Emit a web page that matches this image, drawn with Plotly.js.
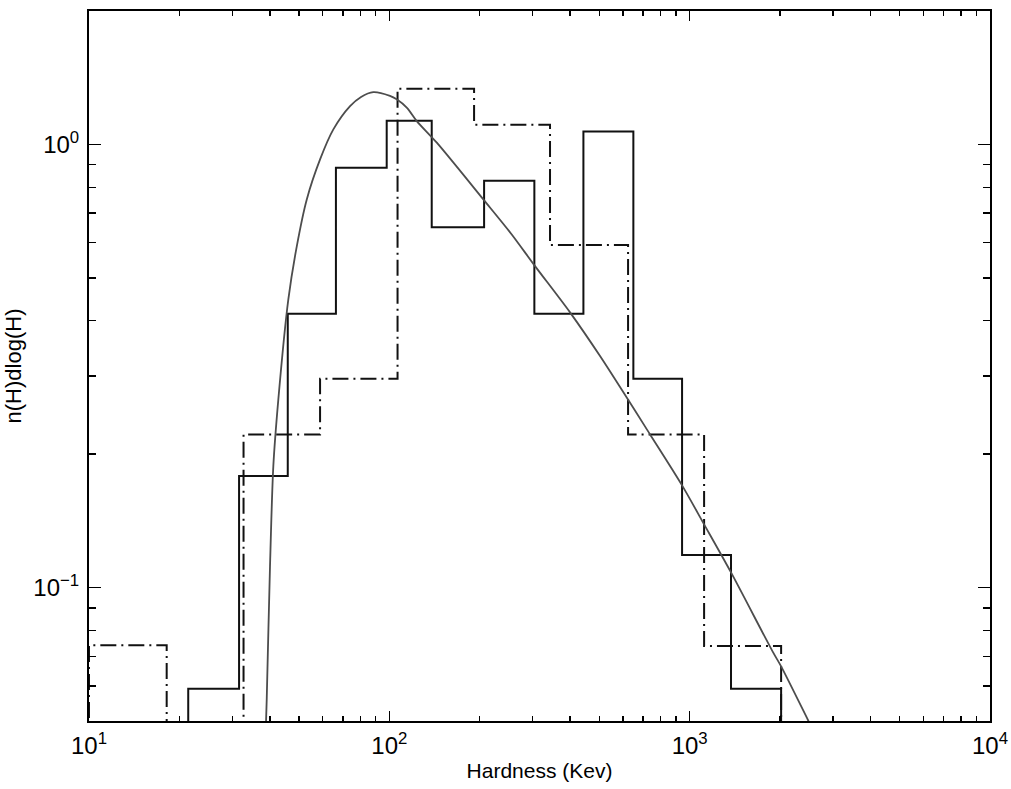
<!DOCTYPE html>
<html>
<head>
<meta charset="utf-8">
<script src="https://cdn.plot.ly/plotly-3.0.1.min.js"></script>
<style>
  html, body { margin: 0; padding: 0; background: #fff; }
  #chart { width: 1011px; height: 789px; }
</style>
</head>
<body>
<div id="chart"></div>
<script>
// Histogram A (solid): bin edges in keV and n(H)dlog(H) per bin
const solidEdges = [21.4, 31.6, 45.9, 66.4, 98.0, 138.4, 206.8, 304.0, 442.8, 649.4, 943.4, 1373, 2016];
const solidHeights = [0.0591, 0.1785, 0.4149, 0.886, 1.131, 0.650, 0.828, 0.415, 1.070, 0.296, 0.1184, 0.0591];

// Histogram B (dash-dot): wider bins, one empty bin
const dashEdges = [10.0, 18.14, 32.7, 58.8, 106.5, 191.5, 342.8, 623.6, 1117, 2016];
const dashHeights = [0.0741, 0, 0.2216, 0.296, 1.336, 1.108, 0.5926, 0.2216, 0.0738];

// Fitted model curve
const fitX = [38.7, 39.06, 40.06, 41.09, 42.70, 46.1, 49.2, 53.1, 58.8, 65.1, 74.0, 80.5, 88.4,
              100.5, 105.8, 114.5, 123.4, 143.9, 205.6, 255.6, 303.4, 399.6, 503.0,
              738.2, 943.4, 1117, 1373, 1896, 2016, 2479, 2677];
const fitY = [0.0455, 0.0559, 0.1118, 0.188, 0.2659, 0.447, 0.5896, 0.7514, 0.925, 1.081, 1.220, 1.280, 1.312,
              1.287, 1.264, 1.209, 1.129, 1.009, 0.7514, 0.6263, 0.5348, 0.4178, 0.3329,
              0.2216, 0.1701, 0.1389, 0.1082, 0.0714, 0.0664, 0.0502, 0.0452];

// Axis ticks
const xTickVals = [10, 100, 1000, 10000];
const xTickText = ['10<sup>1</sup>', '10<sup>2</sup>', '10<sup>3</sup>', '10<sup>4</sup>'];
const yTickVals = [0.1, 1];
const yTickText = ['10<sup>\u22121</sup>', '10<sup>0</sup>'];
const xMinorVals = [20, 30, 40, 50, 60, 70, 80, 90, 200, 300, 400, 500, 600, 700, 800, 900,
                    2000, 3000, 4000, 5000, 6000, 7000, 8000, 9000];
const yMinorVals = [0.06, 0.07, 0.08, 0.09, 0.2, 0.3, 0.4, 0.5, 0.6, 0.7, 0.8, 0.9];

// Empty bins drop below the visible range so the outline falls to the axis
const FLOOR = 1e-3;

function stepOutline(edges, heights) {
  const xs = [edges[0]], ys = [FLOOR];
  heights.forEach((h, i) => {
    const v = h > 0 ? h : FLOOR;
    xs.push(edges[i], edges[i + 1]);
    ys.push(v, v);
  });
  xs.push(edges[edges.length - 1]);
  ys.push(FLOOR);
  return { xs, ys };
}

const solid = stepOutline(solidEdges, solidHeights);
const dashed = stepOutline(dashEdges, dashHeights);

const traces = [
  {
    x: dashed.xs, y: dashed.ys, type: 'scatter', mode: 'lines',
    line: { color: '#111', width: 2, dash: '16px,5px,2px,5px' },
    hoverinfo: 'skip'
  },
  {
    x: solid.xs, y: solid.ys, type: 'scatter', mode: 'lines',
    line: { color: '#111', width: 2 },
    hoverinfo: 'skip'
  },
  {
    x: fitX, y: fitY, type: 'scatter', mode: 'lines',
    line: { color: '#4d4d4d', width: 1.8, shape: 'spline', smoothing: 0.8 },
    hoverinfo: 'skip'
  }
];

const fontFam = '"Liberation Sans", Arial, Helvetica, sans-serif';

const layout = {
  width: 1011, height: 789,
  margin: { l: 89, r: 21, t: 11, b: 68 },
  paper_bgcolor: '#fff', plot_bgcolor: '#fff',
  showlegend: false,
  font: { family: fontFam, color: '#000', size: 21 },
  xaxis: {
    type: 'log', range: [1, 4],
    tickmode: 'array', tickvals: xTickVals, ticktext: xTickText,
    ticks: 'inside', ticklen: 10, tickwidth: 1.6, tickcolor: '#000',
    showline: true, linewidth: 2, linecolor: '#000', mirror: 'allticks',
    showgrid: false, zeroline: false,
    tickfont: { family: fontFam, size: 24, color: '#000' },
    ticklabelstandoff: 2,
    minor: { tickmode: 'array', tickvals: xMinorVals, ticks: 'inside', ticklen: 5, tickwidth: 1.4, tickcolor: '#000', showgrid: false },
    title: { text: 'Hardness (Kev)', font: { family: fontFam, size: 21, color: '#000' }, standoff: 6 },
    automargin: false
  },
  yaxis: {
    type: 'log', range: [Math.log10(0.05), Math.log10(2)],
    tickmode: 'array', tickvals: yTickVals, ticktext: yTickText,
    ticks: 'inside', ticklen: 12, tickwidth: 1.6, tickcolor: '#000',
    showline: true, linewidth: 2, linecolor: '#000', mirror: 'allticks',
    showgrid: false, zeroline: false,
    tickfont: { family: fontFam, size: 24, color: '#000' },
    ticklabelstandoff: 3,
    minor: { tickmode: 'array', tickvals: yMinorVals, ticks: 'inside', ticklen: 7, tickwidth: 1.4, tickcolor: '#000', showgrid: false },
    title: { text: 'n(H)dlog(H)', font: { family: fontFam, size: 22, color: '#000' }, standoff: 6 },
    automargin: false
  }
};

Plotly.newPlot('chart', traces, layout, { staticPlot: true, displayModeBar: false });
</script>
</body>
</html>
